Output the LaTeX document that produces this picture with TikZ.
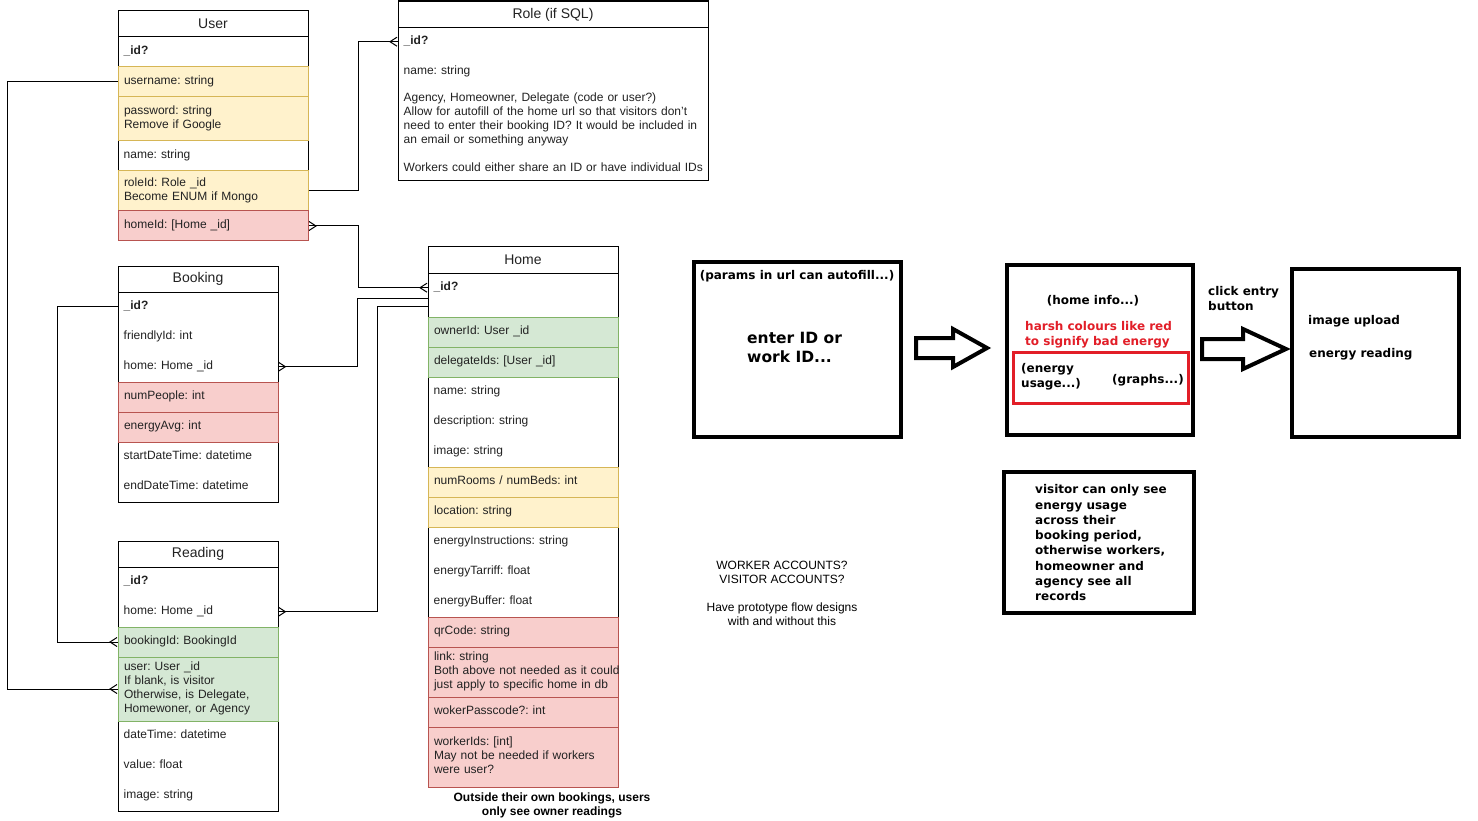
\documentclass[tikz,border=0pt]{standalone}
\usepackage{fontspec}
\setmainfont{Liberation Sans}
\newfontfamily\sketchfam{DejaVu Sans}
\usetikzlibrary{arrows.meta}
\frenchspacing

\definecolor{ink}{HTML}{222222}
\definecolor{yelF}{HTML}{FFF2CC}
\definecolor{yelD}{HTML}{D6B656}
\definecolor{redF}{HTML}{F8CECC}
\definecolor{redD}{HTML}{B85450}
\definecolor{grnF}{HTML}{D5E8D4}
\definecolor{grnD}{HTML}{82B366}
\definecolor{harsh}{RGB}{226,30,40}

\newcommand*\erRowFont{\fontsize{12}{14}\selectfont}
\newcommand*\erHeadFont{\fontsize{14}{16}\selectfont}
\newcommand*\skText{\sketchfam\bfseries\fontsize{12}{15.3}\selectfont}
\newcommand*\skBig{\sketchfam\bfseries\fontsize{15.5}{19}\selectfont}

\begin{document}
\begin{tikzpicture}[x=1pt,y=-1pt,
  tbl/.style={draw=black,line width=1pt,fill=white,anchor=north west,inner sep=0pt},
  hdr/.style={draw=black,line width=1pt,anchor=north west,inner sep=0pt,minimum height=26pt,font=\erHeadFont,text=ink},
  cell/.style={anchor=north west,inner xsep=6pt,inner ysep=0pt,minimum height=30pt,align=left,font=\erRowFont,text=ink,
    execute at begin node=\strut,execute at end node=\strut},
  idcell/.style={cell,font=\erRowFont\bfseries},
  wideT/.style={text width=178pt},
  narrowT/.style={text width=148pt},
  yelrow/.style={fill=yelF,draw=yelD,line width=1pt},
  redrow/.style={fill=redF,draw=redD,line width=1pt},
  grnrow/.style={fill=grnF,draw=grnD,line width=1pt},
  conn/.style={draw=black,line width=1pt},
  crowend/.style={postaction={draw,-{Straight Barb[reversed,length=7pt,width=9pt]}}},
  crowstart/.style={postaction={draw,{Straight Barb[reversed,length=7pt,width=9pt]}-}},
  sbox/.style={draw=black,line width=3.6pt,inner sep=0pt},
  sktext/.style={font=\skText,inner sep=0pt,align=left,text=black,yshift=-2.5pt,
    execute at begin node=\strut,execute at end node=\strut},
  hollow/.style={draw=black,line width=4pt,fill=white,line join=miter},
  note/.style={font=\erRowFont,align=center,text=black,inner sep=0pt}
]
\useasboundingbox (0,0) rectangle (1478,821);
\fill[white] (0,0) rectangle (1478,821);

% ---------- User ----------
\node[tbl,minimum width=190pt,minimum height=230pt] (user) at (117.5,10.5) {};
\node[hdr,minimum width=190pt] (u-h) at (117.5,10.5) {User};
\node[idcell,wideT] (u-id) at (117.5,36.5) {\_id?};
\node[cell,wideT,yelrow] (u-username) at (117.5,66.5) {username: string};
\node[cell,wideT,yelrow,minimum height=44pt] (u-password) at (117.5,96.5) {password: string\\Remove if Google};
\node[cell,wideT] (u-name) at (117.5,140.5) {name: string};
\node[cell,wideT,yelrow,minimum height=40pt] (u-roleid) at (117.5,170.5) {roleId: Role \_id\\Become ENUM if Mongo};
\node[cell,wideT,redrow] (u-homeid) at (117.5,210.5) {homeId: [Home \_id]};

% ---------- Role ----------
\node[tbl,minimum width=310pt,minimum height=180pt] (role) at (397.5,0.5) {};
\node[hdr,minimum width=310pt,yshift=-1pt] (ro-h) at (397.5,0.5) {Role (if SQL)};
\node[idcell,text width=298pt] (ro-id) at (397.5,26.5) {\_id?};
\node[cell,text width=298pt] (ro-name) at (397.5,56.5) {name: string};
\node[cell,text width=298pt,minimum height=0pt] (ro-notes) at (397.5,92) {Agency, Homeowner, Delegate (code or user?)\\\mbox{Allow for autofill of the home url so that visitors don\symbol{39}t}\\\mbox{need to enter their booking ID? It would be included in}\\an email or something anyway\\[14pt]\mbox{Workers could either share an ID or have individual IDs}};

% ---------- Booking ----------
\node[tbl,minimum width=160pt,minimum height=236pt] (booking) at (117.5,265.5) {};
\node[hdr,minimum width=160pt] (b-h) at (117.5,265.5) {Booking};
\node[idcell,narrowT] (b-id) at (117.5,291.5) {\_id?};
\node[cell,narrowT] (b-friendly) at (117.5,321.5) {friendlyId: int};
\node[cell,narrowT] (b-home) at (117.5,351.5) {home: Home \_id};
\node[cell,narrowT,redrow] (b-people) at (117.5,381.5) {numPeople: int};
\node[cell,narrowT,redrow] (b-energy) at (117.5,411.5) {energyAvg: int};
\node[cell,narrowT] (b-start) at (117.5,441.5) {startDateTime: datetime};
\node[cell,narrowT] (b-end) at (117.5,471.5) {endDateTime: datetime};

% ---------- Reading ----------
\node[tbl,minimum width=160pt,minimum height=270pt] (reading) at (117.5,540.5) {};
\node[hdr,minimum width=160pt] (rd-h) at (117.5,540.5) {Reading};
\node[idcell,narrowT] (rd-id) at (117.5,566.5) {\_id?};
\node[cell,narrowT] (rd-home) at (117.5,596.5) {home: Home \_id};
\node[cell,narrowT,grnrow] (rd-booking) at (117.5,626.5) {bookingId: BookingId};
\node[cell,narrowT,grnrow,minimum height=64pt] (rd-user) at (117.5,656.5) {user: User \_id\\If blank, is visitor\\Otherwise, is Delegate,\\Homewoner, or Agency};
\node[cell,narrowT] (rd-datetime) at (117.5,720.5) {dateTime: datetime};
\node[cell,narrowT] (rd-value) at (117.5,750.5) {value: float};
\node[cell,narrowT] (rd-image) at (117.5,780.5) {image: string};

% ---------- Home ----------
\node[tbl,minimum width=190pt,minimum height=540pt] (home) at (427.5,246.5) {};
\node[hdr,minimum width=190pt] (h-h) at (427.5,246.5) {Home};
\node[idcell,wideT] (h-id) at (427.5,272.5) {\_id?};
\node[cell,wideT,grnrow] (h-owner) at (427.5,316.5) {ownerId: User \_id};
\node[cell,wideT,grnrow] (h-delegates) at (427.5,346.5) {delegateIds: [User \_id]};
\node[cell,wideT] (h-name) at (427.5,376.5) {name: string};
\node[cell,wideT] (h-desc) at (427.5,406.5) {description: string};
\node[cell,wideT] (h-image) at (427.5,436.5) {image: string};
\node[cell,wideT,yelrow] (h-rooms) at (427.5,466.5) {numRooms / numBeds: int};
\node[cell,wideT,yelrow] (h-location) at (427.5,496.5) {location: string};
\node[cell,wideT] (h-instr) at (427.5,526.5) {energyInstructions: string};
\node[cell,wideT] (h-tariff) at (427.5,556.5) {energyTarriff: float};
\node[cell,wideT] (h-buffer) at (427.5,586.5) {energyBuffer: float};
\node[cell,wideT,redrow] (h-qr) at (427.5,616.5) {qrCode: string};
\node[cell,wideT,redrow,minimum height=50pt] (h-link) at (427.5,646.5) {link: string\\\mbox{Both above not needed as it could}\\just apply to specific home in db};
\node[cell,wideT,redrow] (h-pass) at (427.5,696.5) {wokerPasscode?: int};
\node[cell,wideT,redrow,minimum height=60pt] (h-workers) at (427.5,726.5) {workerIds: [int]\\May not be needed if workers\\were user?};

\node[note,font=\erRowFont\bfseries] (h-caption) at (552,805) {Outside their own bookings, users\\only see owner readings};

% ---------- relations ----------
\draw[conn,crowend] (u-username.west) -- ++(-110,0) |- (rd-user.west);
\draw[conn,crowend] (u-roleid.east) -- ++(50,0) |- (ro-id.west);
\draw[conn,crowstart,crowend] (u-homeid.east) -- ++(50,0) |- (h-id.west);
\draw[conn,crowstart] (b-home.east) -- ++(80,0) |- ([yshift=-11pt]h-id.west);
\draw[conn,crowstart] (rd-home.east) -- ++(100,0) |- ([yshift=-19pt]h-id.west);
\draw[conn,crowend] (b-id.west) -- ++(-60,0) |- (rd-booking.west);

% ---------- notes ----------
\node[note] (accounts) at (782,593) {WORKER ACCOUNTS?\\VISITOR ACCOUNTS?\\[14pt]Have prototype flow designs\\with and without this};

% ---------- screen sketches ----------
\node[sbox,minimum width=207pt,minimum height=175pt] (s-login) at (797.5,349.5) {};
\node[sktext] (t-params) at (797,274) {(params in url can autofill...)};
\node[sktext,anchor=west,font=\skBig,yshift=-1pt] (t-enter) at (747,346.5) {enter ID or\\work ID...};

\draw[hollow] (916,338) -- (953,338) -- (953,329) -- (987,348) -- (953,367) -- (953,358) -- (916,358) -- cycle;

\node[sbox,minimum width=186pt,minimum height=170pt] (s-home) at (1100,350) {};
\node[sktext] (t-homeinfo) at (1093,299) {(home info...)};
\node[sktext,anchor=west,text=harsh] (t-harsh) at (1025,333.5) {harsh colours like red\\to signify bad energy};
\node[draw=harsh,line width=3pt,minimum width=175pt,minimum height=51pt,inner sep=0pt] (s-usage) at (1100.5,377.5) {};
\node[sktext,anchor=west] (t-usage) at (1021,375.5) {(energy\\usage...)};
\node[sktext,anchor=west] (t-graphs) at (1112,378) {(graphs...)};

\node[sktext,anchor=west] (t-click) at (1208,298.5) {click entry\\button};
\draw[hollow] (1202,339) -- (1243,339) -- (1243,329) -- (1286,349) -- (1243,369) -- (1243,359) -- (1202,359) -- cycle;

\node[sbox,minimum width=167pt,minimum height=168pt] (s-entry) at (1375.5,353) {};
\node[sktext,anchor=west] (t-upload) at (1308,319) {image upload};
\node[sktext,anchor=west] (t-reading) at (1309,352) {energy reading};

\node[sbox,minimum width=190pt,minimum height=141pt] (s-visitor) at (1099,542.5) {};
\node[sktext,anchor=west] (t-visitor) at (1035,542.5) {visitor can only see\\energy usage\\across their\\booking period,\\otherwise workers,\\homeowner and\\agency see all\\records};
\end{tikzpicture}
\end{document}
